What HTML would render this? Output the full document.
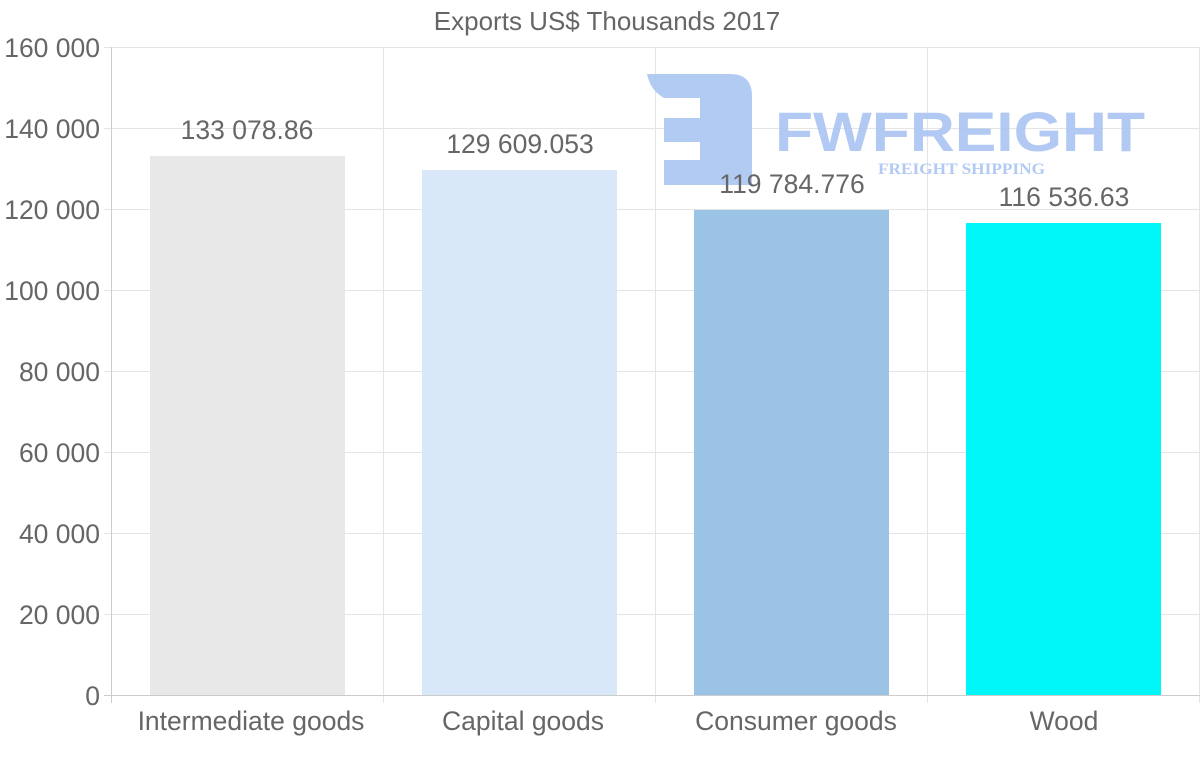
<!DOCTYPE html>
<html><head><style>body{margin:0;background:#fff}svg{display:block}</style></head><body>
<svg width="1200" height="763" xmlns="http://www.w3.org/2000/svg" font-family="Liberation Sans, sans-serif">
<rect width="1200" height="763" fill="#fff"/>
<text x="607" y="30" font-size="26" fill="#666" text-anchor="middle">Exports US$ Thousands 2017</text>
<g stroke="#e4e4e4" stroke-width="1">
<line x1="104" y1="47.5" x2="1200" y2="47.5"/><line x1="104" y1="128.5" x2="1200" y2="128.5"/>
<line x1="104" y1="209.5" x2="1200" y2="209.5"/><line x1="104" y1="290.5" x2="1200" y2="290.5"/>
<line x1="104" y1="371.5" x2="1200" y2="371.5"/><line x1="104" y1="452.5" x2="1200" y2="452.5"/>
<line x1="104" y1="533.5" x2="1200" y2="533.5"/><line x1="104" y1="614.5" x2="1200" y2="614.5"/>
<line x1="383.5" y1="47" x2="383.5" y2="703"/><line x1="655.5" y1="47" x2="655.5" y2="703"/>
<line x1="927.5" y1="47" x2="927.5" y2="703"/><line x1="1199.5" y1="47" x2="1199.5" y2="703"/>
</g>
<g stroke="#ccc"><line x1="104" y1="695.5" x2="1200" y2="695.5"/><line x1="111.5" y1="47" x2="111.5" y2="703"/></g>
<g font-size="26.5" fill="#666" text-anchor="end">
<text x="100" y="57">160 000</text><text x="100" y="138">140 000</text><text x="100" y="219">120 000</text>
<text x="100" y="300">100 000</text><text x="100" y="381">80 000</text><text x="100" y="462">60 000</text>
<text x="100" y="543">40 000</text><text x="100" y="624">20 000</text><text x="100" y="705">0</text>
</g>
<rect x="150" y="156" width="195" height="539" fill="#e8e8e8"/>
<rect x="422" y="170" width="195" height="525" fill="#d9e8f9"/>
<rect x="694" y="210" width="195" height="485" fill="#9bc3e6"/>
<rect x="966" y="223" width="195" height="472" fill="#00f7f9"/>
<g opacity="0.9">
<path d="M647 74 H730 Q752 74 752 96 V185 H664 V160 H700 V142 H664 V118 H700 V98 H664 Q650 90 647 74 Z" fill="#aac5f2"/>
<text x="775" y="151" font-size="56" font-weight="bold" fill="#aac5f2" textLength="370" lengthAdjust="spacingAndGlyphs">FWFREIGHT</text>
<text x="878" y="174" font-size="16" font-weight="bold" font-family="Liberation Serif, serif" fill="#aac5f2" textLength="167" lengthAdjust="spacingAndGlyphs">FREIGHT SHIPPING</text>
</g>
<g font-size="26.5" fill="#666" text-anchor="middle">
<text x="247" y="139">133 078.86</text><text x="520" y="153">129 609.053</text>
<text x="792" y="193">119 784.776</text><text x="1064" y="206">116 536.63</text>
<text x="251" y="730">Intermediate goods</text><text x="523" y="730">Capital goods</text>
<text x="796" y="730">Consumer goods</text><text x="1064" y="730">Wood</text>
</g>
</svg>
</body></html>
